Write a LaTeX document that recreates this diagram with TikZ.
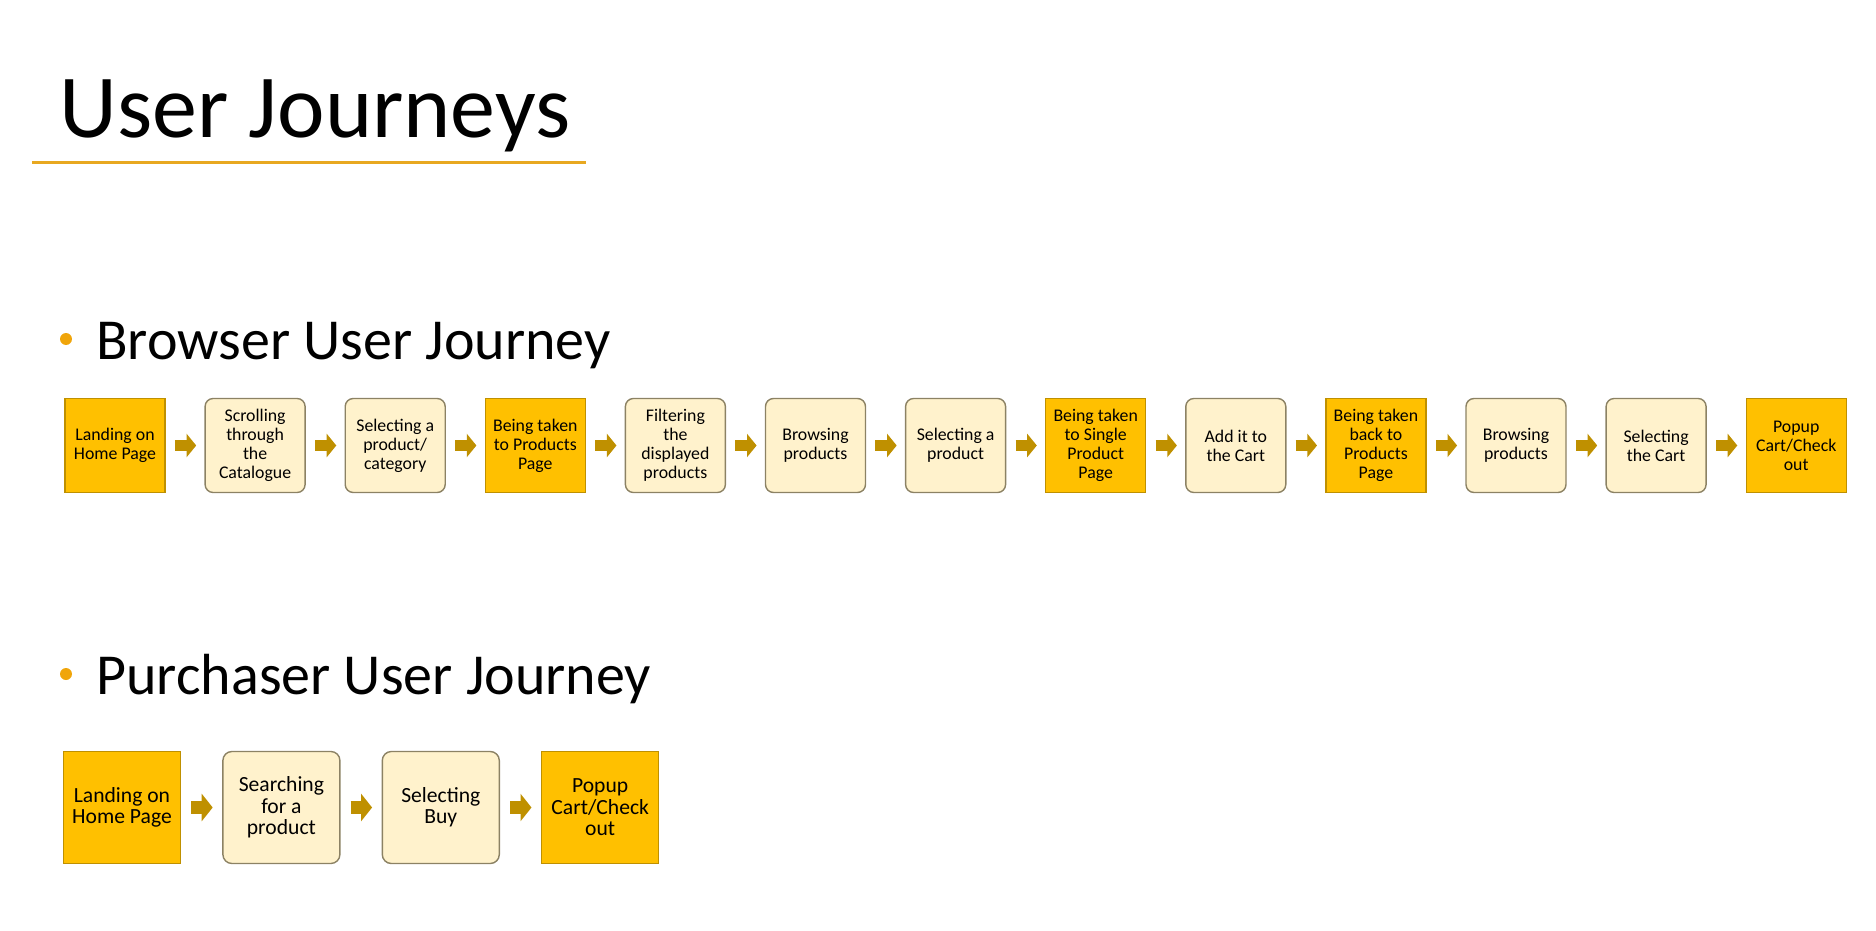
\documentclass[tikz,border=0pt]{standalone}
\usepackage{fontspec}
\setmainfont{Carlito}
\usepackage{tikz}
\usetikzlibrary{arrows.meta}
\usetikzlibrary{positioning}

\definecolor{gold}{RGB}{255,192,0}
\definecolor{darkgold}{RGB}{191,144,0}
\definecolor{cream}{RGB}{255,242,204}
\definecolor{creamline}{RGB}{140,130,100}
\definecolor{titlerule}{RGB}{232,168,32}
\definecolor{bulletdot}{RGB}{240,165,10}

\tikzstyle{stage} = [rectangle, minimum width=50pt, minimum height=47pt, inner sep=0pt, align=center, fill=gold, draw=darkgold, line width=0.7pt, font=\fontsize{8.9}{9.5}\selectfont]
\tikzstyle{action} = [stage, rounded corners=4pt, fill=cream, draw=creamline]
\tikzstyle{bigstage} = [stage, minimum width=58.5pt, minimum height=56pt, font=\fontsize{10.8}{10.7}\selectfont]
\tikzstyle{bigaction} = [bigstage, rounded corners=4.5pt, fill=cream, draw=creamline]
\tikzstyle{heading} = [anchor=base west, inner sep=0pt, font=\fontsize{29}{34}\selectfont]
\tikzstyle{flow} = [draw=darkgold, line width=5.75pt, -{Triangle[length=4.8pt,width=11.5pt]}, shorten <=4.6pt, shorten >=4.1pt]
\tikzstyle{bigflow} = [flow, line width=6.5pt, -{Triangle[length=5.5pt,width=13.5pt]}, shorten <=5pt, shorten >=4.75pt]

\begin{document}
\begin{tikzpicture}[x=0.5pt, y=-0.5pt]
\useasboundingbox (0,0) rectangle (1876,931);

% title
\node (title) [anchor=base west, inner sep=0pt, font=\fontsize{45}{50}\selectfont] at (59,138) {User Journeys};
\draw[titlerule, line width=1.5pt] (32,163) -- (586,163);

% browser journey
\fill[bulletdot] (66,339) circle (3pt);
\node (browserhead) [heading] at (96,359) {Browser User Journey};

\node (land) [stage] at (115,445.5) {Landing on\\Home Page};
\node (scroll) [action, right=19.35pt of land] {Scrolling\\through\\the\\Catalogue};
\node (selcat) [action, right=19.35pt of scroll] {Selecting a\\product/\\category};
\node (prodpage) [stage, right=19.35pt of selcat] {Being taken\\to Products\\Page};
\node (filter) [action, right=19.35pt of prodpage] {Filtering\\the\\displayed\\products};
\node (browse) [action, right=19.35pt of filter] {Browsing\\products};
\node (selprod) [action, right=19.35pt of browse] {Selecting a\\product};
\node (single) [stage, right=19.35pt of selprod] {Being taken\\to Single\\Product\\Page};
\node (addcart) [action, right=19.35pt of single] {Add it to\\the Cart};
\node (backprod) [stage, right=19.35pt of addcart] {Being taken\\back to\\Products\\Page};
\node (browsetwo) [action, right=19.35pt of backprod] {Browsing\\products};
\node (selcart) [action, right=19.35pt of browsetwo] {Selecting\\the Cart};
\node (popup) [stage, right=19.35pt of selcart] {Popup\\Cart/Check\\out};

\foreach \a/\b in {land/scroll, scroll/selcat, selcat/prodpage, prodpage/filter,
  filter/browse, browse/selprod, selprod/single, single/addcart, addcart/backprod,
  backprod/browsetwo, browsetwo/selcart, selcart/popup}
  \draw[flow] (\a) -- (\b);

% purchaser journey
\fill[bulletdot] (66,674) circle (3pt);
\node (buyerhead) [heading] at (96,694) {Purchaser User Journey};

\node (pland) [bigstage] at (122,807.5) {Landing on\\Home Page};
\node (psearch) [bigaction, right=20.5pt of pland] {Searching\\for a\\product};
\node (pbuy) [bigaction, right=20.5pt of psearch] {Selecting\\Buy};
\node (ppopup) [bigstage, right=20.5pt of pbuy] {Popup\\Cart/Check\\out};

\foreach \a/\b in {pland/psearch, psearch/pbuy, pbuy/ppopup}
  \draw[bigflow] (\a) -- (\b);
\end{tikzpicture}
\end{document}
